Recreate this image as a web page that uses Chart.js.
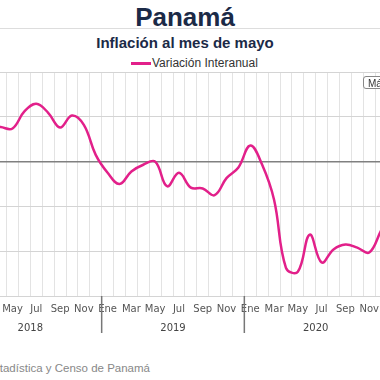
<!DOCTYPE html>
<html lang="es">
<head>
<meta charset="utf-8">
<script src="https://cdn.jsdelivr.net/npm/chart.js@4.4.1/dist/chart.umd.min.js"></script>
<style>
    body { margin: 0; width: 380px; height: 380px; overflow: hidden; background: #fff; position: relative; font-family: "Liberation Sans", Arial, sans-serif; }
    #title { position: absolute; top: 2px; left: 0; width: 370px; text-align: center; font-size: 26px; line-height: 30px; font-weight: bold; color: #1b2a47; }
    #rule { position: absolute; top: 28px; left: 0; width: 380px; height: 1px; background: #dddddd; }
    #subtitle { position: absolute; top: 34px; left: 0; width: 370px; text-align: center; font-size: 15px; line-height: 18px; font-weight: bold; color: #1b2a47; }
    #legend { position: absolute; top: 55px; left: 131px; height: 16px; white-space: nowrap; font-size: 12px; line-height: 16px; color: #333; }
    #legend .swatch { display: inline-block; width: 20px; height: 3px; background: #e2208a; vertical-align: middle; margin-right: 1px; }
    #menu { position: absolute; top: 76px; left: 363px; width: 34px; height: 13px; border: 1px solid #888; border-radius: 3px; background: #fff; font-size: 10px; line-height: 13px; color: #333; padding-left: 4px; box-sizing: border-box; }
    #source { position: absolute; top: 362px; right: 230px; white-space: nowrap; font-size: 11.5px; color: #888; }
    #wrap { position: absolute; left: -100px; top: 0; width: 490px; height: 340px; }
</style>
</head>
<body>
<div id="title">Panamá</div>
<div id="rule"></div>
<div id="subtitle">Inflación al mes de mayo</div>
<div id="legend"><span class="swatch"></span>Variación Interanual</div>
<div id="wrap"><canvas id="inflChart"></canvas></div>
<div id="menu">Máx</div>
<div id="source">Fuente: Instituto Nacional de Estadística y Censo de Panamá</div>
<script>
// Years and month names on the axis
const years = ['2018', '2019', '2020'];
const monthNames = ['Ene', 'Feb', 'Mar', 'Abr', 'May', 'Jun', 'Jul', 'Ago', 'Sep', 'Oct', 'Nov', 'Dic'];

// Variación interanual (%)
const values2018 = [0.5, 0.6, 0.8, 0.77, 0.74, 1.12, 1.29, 1.09, 0.76, 1.03, 0.82, 0.15];
const values2019 = [-0.25, -0.5, -0.22, -0.07, 0.0, -0.55, -0.25, -0.58, -0.6, -0.75, -0.37, -0.13];
const values2020 = [0.36, -0.07, -0.85, -2.37, -2.46, -1.63, -2.25, -1.96, -1.85, -1.92, -2.03, -1.54];

const labels = [];
years.forEach(y => monthNames.forEach(m => labels.push(m + ' ' + y)));
const values = values2018.concat(values2019, values2020);

// Year labels and separators under the month labels
const yearAxisPlugin = {
    id: 'yearAxis',
    afterDraw(chart) {
        const ctx = chart.ctx;
        const xs = chart.scales.x;
        const cell = xs.width / labels.length;
        const bottom = chart.chartArea.bottom;
        ctx.save();
        ctx.strokeStyle = '#777';
        ctx.lineWidth = 1.5;
        for (let i = 0; i <= years.length; i++) {
            const bx = xs.left + cell * 12 * i;
            ctx.beginPath();
            ctx.moveTo(bx, bottom);
            ctx.lineTo(bx, bottom + 37);
            ctx.stroke();
        }
        ctx.fillStyle = '#444';
        ctx.font = '10px "DejaVu Sans"';
        ctx.textAlign = 'center';
        ctx.textBaseline = 'middle';
        years.forEach((y, i) => {
            ctx.fillText(y, xs.left + cell * (12 * i + 6), bottom + 32);
        });
        ctx.restore();
    }
};

const ctx = document.getElementById('inflChart').getContext('2d');
const inflChart = new Chart(ctx, {
    type: 'line',
    data: {
        labels: labels,
        datasets: [{
            label: 'Variación Interanual',
            data: values,
            borderColor: '#e2208a',
            borderWidth: 2.5,
            pointRadius: 0,
            tension: 0.4,
            fill: false
        }]
    },
    options: {
        responsive: true,
        maintainAspectRatio: false,
        animation: false,
        layout: { padding: { top: 72, right: 3, bottom: 0, left: 0 } },
        plugins: {
            legend: { display: false },
            tooltip: { enabled: false }
        },
        scales: {
            x: {
                offset: true,
                grid: { offset: true, color: '#e3e3e3', drawTicks: false },
                border: { display: false },
                ticks: {
                    autoSkip: false,
                    maxRotation: 0,
                    padding: 7,
                    color: '#555',
                    font: { family: 'DejaVu Sans', size: 10 },
                    callback: function (value, index) {
                        return index % 2 === 0 ? monthNames[index % 12] : '';
                    }
                },
                afterFit: function (scale) { scale.height = 44; }
            },
            y: {
                min: -3,
                max: 2,
                ticks: { stepSize: 1, display: false },
                grid: {
                    drawTicks: false,
                    color: c => c.tick.value === 0 ? '#808080' : '#d4d4d4',
                    lineWidth: c => c.tick.value === 0 ? 1.5 : 1
                },
                border: { display: false },
                afterFit: function (scale) { scale.width = 59; }
            }
        }
    },
    plugins: [yearAxisPlugin]
});
</script>
</body>
</html>
